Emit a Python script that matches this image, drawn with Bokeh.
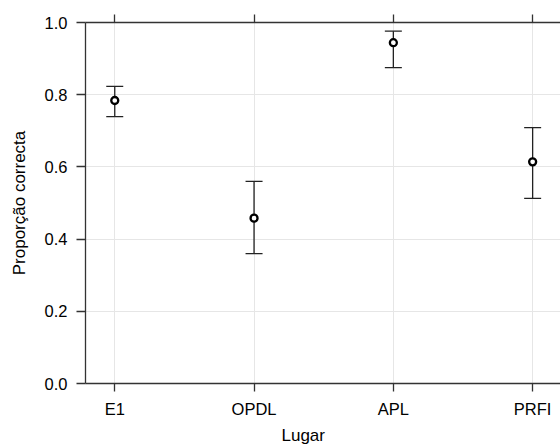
from bokeh.plotting import figure
from bokeh.models import (ColumnDataSource, Range1d, FixedTicker, LinearAxis,
                          Whisker, TeeHead, Title)
from bokeh.embed import file_html
from bokeh.resources import INLINE

categories = ["E1", "OPDL", "APL", "PRFI"]
prop = [0.784, 0.458, 0.944, 0.614]
lower = [0.739, 0.360, 0.875, 0.513]
upper = [0.823, 0.560, 0.976, 0.709]
y_ticks = [0.0, 0.2, 0.4, 0.6, 0.8, 1.0]
y_tick_labels = ["0.0", "0.2", "0.4", "0.6", "0.8", "1.0"]
x_label = "Lugar"
y_label = "Proporção correcta"

xpos = list(range(1, len(categories) + 1))
src = ColumnDataSource(dict(x=xpos, y=prop, lo=lower, hi=upper))

FONT = "Liberation Sans"
AX = "#333333"
FS = "16.5px"
LFS = "17px"

p = figure(width=560, height=447, output_backend="svg", toolbar_location=None,
           x_range=Range1d(0.79, 4.2), y_range=Range1d(0, 1),
           min_border_left=85, min_border_right=0, min_border_top=22,
           min_border_bottom=63)
p.outline_line_color = None
p.background_fill_color = "white"
p.border_fill_color = "white"

for ax in (p.xaxis[0], p.yaxis[0]):
    ax.axis_line_color = AX
    ax.axis_line_width = 1.3
    ax.major_tick_line_color = AX
    ax.major_tick_line_width = 1.3
    ax.major_tick_in = 0
    ax.minor_tick_line_color = None
    ax.major_label_text_font = FONT
    ax.major_label_text_font_size = FS
    ax.major_label_text_color = "black"

p.xaxis[0].major_tick_out = 8
p.xaxis[0].major_label_standoff = 8
p.yaxis[0].major_tick_out = 9
p.yaxis[0].major_label_standoff = 9

p.xaxis[0].ticker = FixedTicker(ticks=xpos)
p.xaxis[0].major_label_overrides = {x: c for x, c in zip(xpos, categories)}
p.yaxis[0].ticker = FixedTicker(ticks=y_ticks)
p.yaxis[0].major_label_overrides = {t: l for t, l in zip(y_ticks, y_tick_labels)}
p.yaxis[0].axis_label = y_label
p.yaxis[0].axis_label_text_font = FONT
p.yaxis[0].axis_label_text_font_size = LFS
p.yaxis[0].axis_label_text_font_style = "normal"
p.yaxis[0].axis_label_text_color = "black"
p.yaxis[0].axis_label_standoff = 13

top = LinearAxis(ticker=FixedTicker(ticks=xpos),
                 major_label_overrides={x: "" for x in xpos},
                 major_label_standoff=0, axis_line_color=AX, axis_line_width=1.3,
                 major_tick_line_color=AX, major_tick_line_width=1.3,
                 major_tick_out=8, major_tick_in=0, minor_tick_line_color=None)
p.add_layout(top, "above")

p.xgrid.ticker = FixedTicker(ticks=xpos)
p.ygrid.ticker = FixedTicker(ticks=y_ticks)
for g in (p.xgrid[0], p.ygrid[0]):
    g.grid_line_color = "#e6e6e6"
    g.grid_line_width = 1

w = Whisker(source=src, base="x", lower="lo", upper="hi",
            line_color="#222222", line_width=1.3,
            upper_head=TeeHead(size=17, line_color="#222222", line_width=1.3),
            lower_head=TeeHead(size=17, line_color="#222222", line_width=1.3))
p.add_layout(w)

p.scatter("x", "y", source=src, size=7, fill_color="white",
          line_color="black", line_width=2.3)

xt = Title(text=x_label, align="left", offset=196, standoff=6,
           vertical_align="bottom",
           text_font=FONT, text_font_size=LFS, text_font_style="normal",
           text_color="black")
p.add_layout(xt, "below")

open("out.html", "w").write(file_html(p, INLINE))
